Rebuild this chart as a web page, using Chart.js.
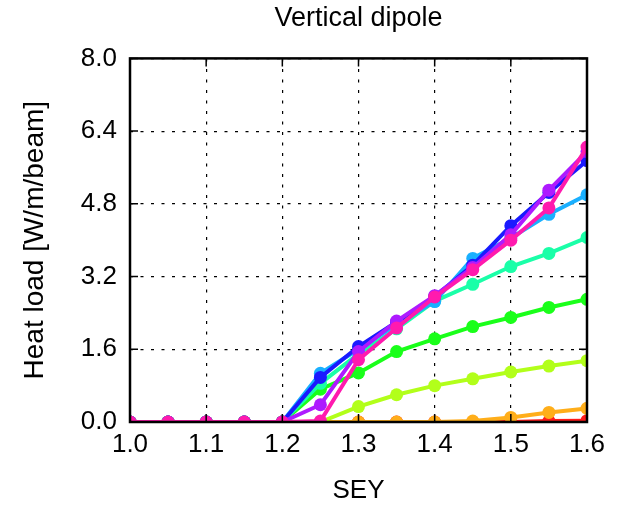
<!DOCTYPE html>
<html>
<head>
<meta charset="utf-8">
<script src="https://cdn.jsdelivr.net/npm/chart.js@4/dist/chart.umd.min.js"></script>
<style>
  html, body { margin: 0; padding: 0; background: #fff; }
  #wrap { width: 625px; height: 506px; }
</style>
</head>
<body>
<div id="wrap"><canvas id="c" width="625" height="506"></canvas></div>
<script>
// Secondary electron yield scan points
const sey = [1.00, 1.05, 1.10, 1.15, 1.20, 1.25, 1.30, 1.35, 1.40, 1.45, 1.50, 1.55, 1.60];

// Heat load per scenario [W/m/beam], one array per curve
const heatLoad1 = [0, 0, 0, 0, 0, 0, 0, 0, 0, 0, 0, 0.02, 0.03];
const heatLoad2 = [0, 0, 0, 0, 0, 0, 0, 0, 0, 0.02, 0.10, 0.21, 0.30];
const heatLoad3 = [0, 0, 0, 0, 0, 0, 0.34, 0.60, 0.80, 0.95, 1.10, 1.23, 1.35];
const heatLoad4 = [0, 0, 0, 0, 0, 0.72, 1.08, 1.55, 1.83, 2.10, 2.30, 2.52, 2.70];
const heatLoad5 = [0, 0, 0, 0, 0, 0.85, 1.50, 2.05, 2.66, 3.03, 3.42, 3.71, 4.06];
const heatLoad6 = [0, 0, 0, 0, 0, 1.07, 1.60, 2.15, 2.65, 3.60, 4.05, 4.57, 5.00];
const heatLoad7 = [0, 0, 0, 0, 0, 0.98, 1.66, 2.20, 2.76, 3.45, 4.32, 5.05, 5.75];
const heatLoad8 = [0, 0, 0, 0, 0, 0.38, 1.55, 2.22, 2.78, 3.40, 4.12, 5.10, 5.95];
const heatLoad9 = [0, 0, 0, 0, 0, 0.02, 1.37, 2.07, 2.75, 3.35, 4.00, 4.71, 6.05];

// Axis tick labels
const seyTicks = [1.0, 1.1, 1.2, 1.3, 1.4, 1.5, 1.6];
const loadTicks = [0.0, 1.6, 3.2, 4.8, 6.4, 8.0];

const curves = [heatLoad1, heatLoad2, heatLoad3, heatLoad4, heatLoad5,
                heatLoad6, heatLoad7, heatLoad8, heatLoad9];
const colours = ['#ff1a1a', '#ffae1a', '#b2ff1a', '#1aff1a', '#1affa8',
                 '#1ab0ff', '#1a1aff', '#ae1aff', '#ff1aae'];

const FONT = 'Liberation Sans, Arial, Helvetica, sans-serif';

const datasets = curves.map((vals, i) => ({
  label: 'curve ' + (i + 1),
  data: sey.map((x, j) => ({ x: x, y: vals[j] })),
  borderColor: colours[i],
  backgroundColor: colours[i],
  pointBackgroundColor: colours[i],
  pointBorderColor: colours[i],
  pointBorderWidth: 0,
  pointRadius: 6.5,
  borderWidth: 4,
  tension: 0,
  clip: 0,
  order: curves.length - 1 - i   // later curves sit on top
}));

// Solid frame round the plot area with inward tick marks
const framePlugin = {
  id: 'frame',
  afterDatasetsDraw(chart) {
    const { ctx, chartArea: a, scales } = chart;
    const tl = 8;
    ctx.save();
    ctx.strokeStyle = '#000';
    ctx.lineWidth = 1.5;
    ctx.beginPath();
    scales.x.ticks.forEach(t => {
      const px = scales.x.getPixelForValue(t.value);
      ctx.moveTo(px, a.bottom); ctx.lineTo(px, a.bottom - tl);
      ctx.moveTo(px, a.top); ctx.lineTo(px, a.top + tl);
    });
    scales.y.ticks.forEach(t => {
      const py = scales.y.getPixelForValue(t.value);
      ctx.moveTo(a.left, py); ctx.lineTo(a.left + tl, py);
      ctx.moveTo(a.right, py); ctx.lineTo(a.right - tl, py);
    });
    ctx.stroke();
    ctx.lineWidth = 2.5;
    ctx.strokeRect(a.left, a.top, a.right - a.left, a.bottom - a.top);
    ctx.restore();
  }
};

const gridOpts = { color: '#000', lineWidth: 1.2, drawTicks: false };
const borderOpts = { display: false, dash: [3, 7.5] };

new Chart(document.getElementById('c'), {
  type: 'line',
  data: { datasets: datasets },
  plugins: [framePlugin],
  options: {
    responsive: false,
    animation: false,
    devicePixelRatio: 1,
    layout: { padding: { left: 0, right: 38, top: 0, bottom: 0 } },
    plugins: {
      legend: { display: false },
      tooltip: { enabled: false },
      title: {
        display: true,
        text: 'Vertical dipole',
        fullSize: false,
        color: '#000',
        font: { family: FONT, size: 27, weight: 'normal' },
        padding: { top: 2, bottom: 24 }
      }
    },
    scales: {
      x: {
        type: 'linear',
        min: 1.0,
        max: 1.6,
        afterBuildTicks: s => { s.ticks = seyTicks.map(v => ({ value: v })); },
        afterFit: s => { s.height = 84; },
        ticks: {
          color: '#000',
          padding: 7,
          maxRotation: 0,
          autoSkip: false,
          font: { family: FONT, size: 26 },
          callback: v => Number(v).toFixed(1)
        },
        grid: gridOpts,
        border: borderOpts,
        title: {
          display: true,
          text: 'SEY',
          color: '#000',
          font: { family: FONT, size: 26 },
          padding: { top: 0, bottom: 0 }
        }
      },
      y: {
        type: 'linear',
        min: 0,
        max: 8,
        afterBuildTicks: s => { s.ticks = loadTicks.map(v => ({ value: v })); },
        afterFit: s => { s.width = 130; },
        ticks: {
          color: '#000',
          padding: 13,
          autoSkip: false,
          font: { family: FONT, size: 26 },
          callback: v => Number(v).toFixed(1)
        },
        grid: gridOpts,
        border: borderOpts,
        title: {
          display: true,
          text: 'Heat load [W/m/beam]',
          color: '#000',
          font: { family: FONT, size: 28 },
          padding: { top: 18, bottom: 0 }
        }
      }
    }
  }
});
</script>
</body>
</html>
